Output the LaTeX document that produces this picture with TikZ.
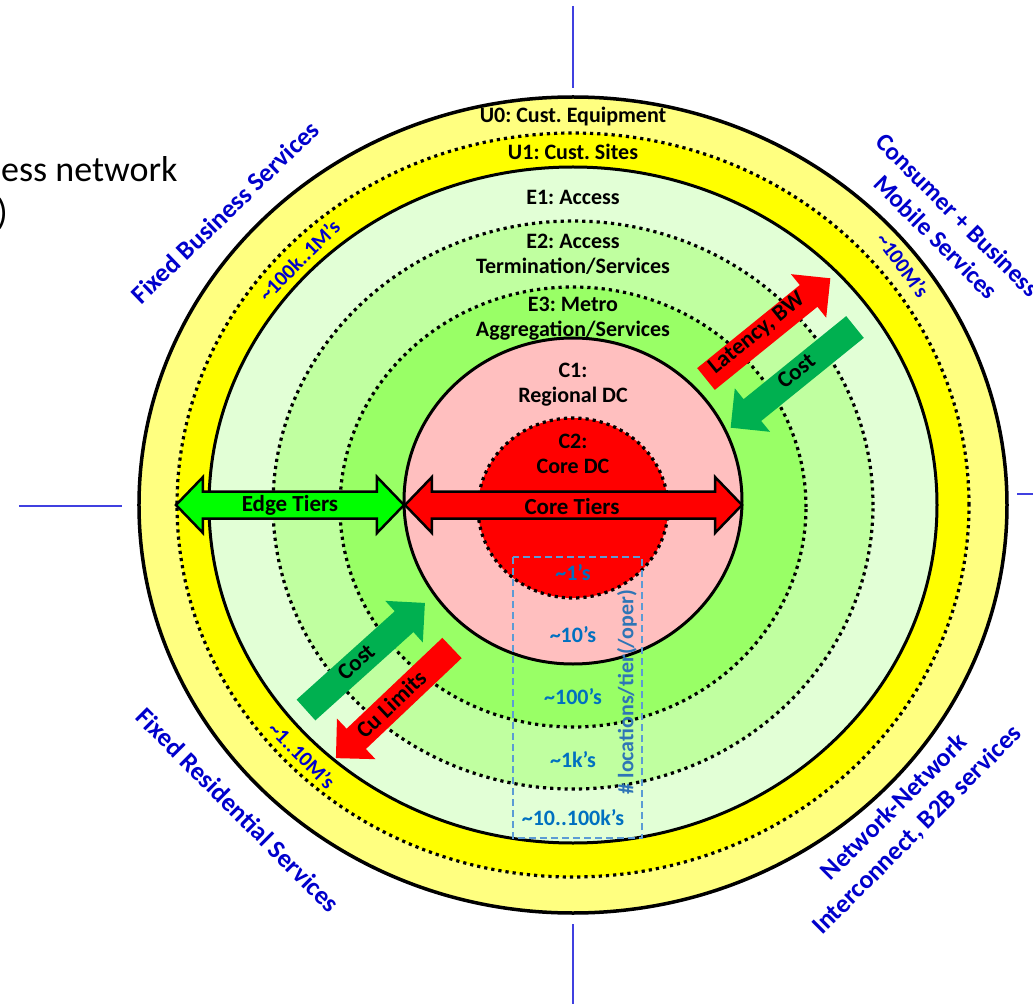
\documentclass[tikz,border=0pt]{standalone}
\usepackage{fontspec}
\setmainfont{Carlito}
\definecolor{ringUzero}{RGB}{255,255,128}
\definecolor{ringUone}{RGB}{255,255,0}
\definecolor{ringEone}{RGB}{226,255,214}
\definecolor{ringEtwo}{RGB}{192,255,160}
\definecolor{ringEthree}{RGB}{153,255,102}
\definecolor{ringCone}{RGB}{255,191,191}
\definecolor{ringCtwo}{RGB}{255,0,0}
\definecolor{svcblue}{RGB}{0,0,204}
\definecolor{numblue}{RGB}{0,112,192}
\definecolor{tierblue}{RGB}{46,117,182}
\definecolor{boxblue}{RGB}{91,155,213}
\definecolor{axisblue}{RGB}{64,64,224}
\definecolor{costgreen}{RGB}{0,176,80}
\definecolor{edgegreen}{RGB}{0,255,0}
\newcommand\tld{\textasciitilde}
\frenchspacing

\begin{document}
\begin{tikzpicture}[x=1pt,y=1pt,
  ringsolid/.style={draw=black, line width=3pt},
  ringdotted/.style={draw=black, line width=3.2pt, dash pattern=on 3.2pt off 4pt},
  ringlabel/.style={font=\bfseries\fontsize{22}{25}\selectfont, align=center, text=black, inner sep=0pt},
  countlabel/.style={font=\bfseries\fontsize{22}{24}\selectfont, text=numblue, inner sep=0pt},
  bandlabel/.style={font=\bfseries\fontsize{21}{23}\selectfont, text=svcblue, inner sep=0pt},
  servicelabel/.style={font=\bfseries\fontsize{26}{32}\selectfont, text=svcblue, align=center, inner sep=0pt},
  arrowtext/.style={font=\bfseries\fontsize{23}{25}\selectfont, text=black, inner sep=0pt},
  tiertext/.style={font=\bfseries\fontsize{23}{27}\selectfont, text=black, inner sep=0pt},
  tierborder/.style={draw=black, line width=2.5pt, line join=miter},
  axisline/.style={draw=axisblue, line width=1.5pt},
  blockarrow/.pic={\fill (0,-14) -- (132,-14) -- (132,-28) -- (160,0) -- (132,28) -- (132,14) -- (0,14) -- cycle;}
]
\useasboundingbox (-573,-499) rectangle (460,505);

% quadrant marks
\draw[axisline] (0,499) -- (0,417);
\draw[axisline] (-554,-1) -- (-451,-1);
\draw[axisline] (0,-419) -- (0,-499);
\draw[axisline] (444,11) -- (460,11);

% heading fragment
\node[anchor=base west, inner sep=0pt, font=\fontsize{36}{44}\selectfont] (head1) at (-572,323) {ess network};
\node[anchor=base east, inner sep=0pt, font=\fontsize{36}{44}\selectfont] (head2) at (-565,280) {)};

% tier rings, outside in
\filldraw[fill=ringUzero, ringsolid, line width=3.5pt] (0,0) ellipse [x radius=434pt, y radius=408pt];
\filldraw[fill=ringUone, ringdotted] (0,0) ellipse [x radius=396pt, y radius=372pt];
\filldraw[fill=ringEone, ringsolid] (0,0) ellipse [x radius=364pt, y radius=338pt];
\filldraw[fill=ringEtwo, ringdotted] (0,0) ellipse [x radius=300pt, y radius=284pt];
\filldraw[fill=ringEthree, ringdotted] (0,-2) ellipse [x radius=233pt, y radius=220pt];
\filldraw[fill=ringCone, ringsolid] (0,4) ellipse [x radius=169pt, y radius=163pt];
\filldraw[fill=ringCtwo, ringdotted] (0,-3) ellipse [x radius=95pt, y radius=90pt];

% tier names
\node[ringlabel] (uzero) at (0,388) {U0: Cust. Equipment};
\node[ringlabel] (uone) at (0,353) {U1: Cust. Sites};
\node[ringlabel] (eone) at (0,308) {E1: Access};
\node[ringlabel] (etwo) at (0,251) {E2: Access\\Termination/Services};
\node[ringlabel] (ethree) at (0,186) {E3: Metro\\Aggregation/Services};
\node[ringlabel] (cone) at (0,120) {C1:\\Regional DC};
\node[ringlabel] (ctwo) at (0,51) {C2:\\Core DC};

% edge / core double arrows
\filldraw[fill=edgegreen, tierborder] (-397,0) -- (-370,28) -- (-370,13.5) -- (-196,13.5) -- (-196,28) -- (-169,0)
  -- (-196,-28) -- (-196,-13.5) -- (-370,-13.5) -- (-370,-28) -- cycle;
\filldraw[fill=ringCtwo, tierborder] (-168,0) -- (-141,28) -- (-141,13.5) -- (142,13.5) -- (142,28) -- (169,0)
  -- (142,-28) -- (142,-13.5) -- (-141,-13.5) -- (-141,-28) -- cycle;
\node[tiertext] (edgetiers) at (-283,0) {Edge Tiers};
\node[tiertext] (coretiers) at (-1,-2) {Core Tiers};

% trade-off arrows
\pic[red, rotate=39] at (133,126) {blockarrow};
\pic[costgreen, rotate=219] at (282,178) {blockarrow};
\pic[costgreen, rotate=42] at (-267,-205) {blockarrow};
\pic[red, rotate=223.5] at (-121,-143) {blockarrow};
\node[arrowtext, rotate=39] (latency) at (184,171) {Latency, BW};
\node[arrowtext, rotate=39] (costur) at (223,134) {Cost};
\node[arrowtext, rotate=42] (costll) at (-217,-157) {Cost};
\node[arrowtext, rotate=43.5] (culim) at (-182,-199) {Cu Limits};

% locations per tier
\draw[boxblue, line width=1.3pt, dash pattern=on 7pt off 4pt] (-60,-52) rectangle (69,-333);
\node[countlabel] (nc2) at (0,-68) {\tld1’s};
\node[countlabel] (nc1) at (0,-130) {\tld10’s};
\node[countlabel] (ne3) at (0,-192) {\tld100’s};
\node[countlabel] (ne2) at (0,-255) {\tld1k’s};
\node[countlabel] (ne1) at (0,-313) {\tld10..100k’s};
\node[font=\bfseries\fontsize{22}{25}\selectfont, text=tierblue, inner sep=0pt, rotate=90] (perTier) at (54,-187) {\# locations/tier(/oper)};

% subscriber counts in the U1 band
\node[bandlabel, rotate=45] (cntfb) at (-274,245) {\tld100k..1M’s};
\node[bandlabel, rotate=-54] (cntmob) at (330,240) {\tld100M’s};
\node[bandlabel, rotate=-45] (cntres) at (-271,-250) {\tld1..10M’s};

% service segments
\node[servicelabel, rotate=44] (fixedbiz) at (-348,293) {Fixed Business Services};
\node[servicelabel, rotate=-45, font=\bfseries\fontsize{25}{31}\selectfont] (mobile) at (374,279) {Consumer + Business\\Mobile Services};
\node[servicelabel, rotate=-45] (fixedres) at (-335,-305) {Fixed Residential Services};
\node[servicelabel, rotate=45] (nni) at (333,-314) {Network-Network\\Interconnect, B2B services};
\end{tikzpicture}
\end{document}
